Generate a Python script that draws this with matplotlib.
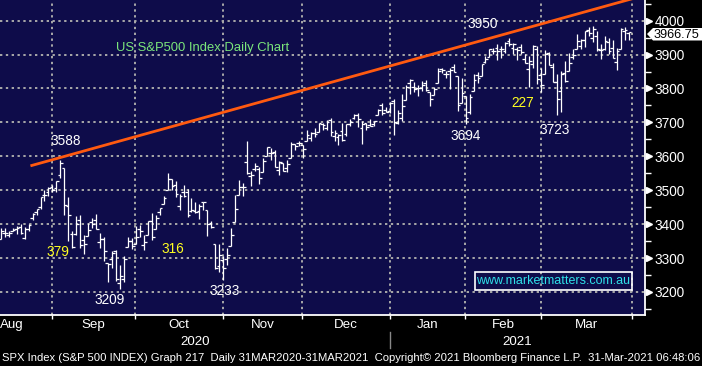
import numpy as np
import pandas as pd
import matplotlib
matplotlib.use('Agg')
import matplotlib.pyplot as plt
from matplotlib import transforms
from matplotlib.patches import Polygon, Rectangle

# SPX daily bars, 12 Aug 2020 - 30 Mar 2021 (one row per month)
opens = [
    3355.5, 3373.0, 3368.7, 3380.9, 3387.0, 3392.5, 3360.5, 3386.0, 3418.1, 3436.0, 3450.0, 3485.1, 3494.7, 3509.7,
    3507.4, 3543.8, 3564.7, 3453.6, 3371.9, 3369.8, 3412.6, 3352.7, 3363.6, 3407.7, 3411.2, 3346.9, 3357.4, 3285.6, 3295.8, 3320.1, 3226.1, 3236.7, 3333.9, 3350.9, 3341.2,
    3385.9, 3338.9, 3367.3, 3408.7, 3384.6, 3434.3, 3459.7, 3500.0, 3534.0, 3515.5, 3453.7, 3493.5, 3493.7, 3439.4, 3439.9, 3438.5, 3464.9, 3441.4, 3403.2, 3342.5, 3277.2, 3293.6,
    3296.2, 3336.3, 3406.5, 3485.7, 3508.3, 3583.0, 3543.3, 3563.2, 3562.7, 3552.6, 3600.2, 3610.3, 3612.1, 3559.4, 3579.3, 3566.8, 3594.5, 3635.5, 3638.6, 3634.2,
    3645.9, 3653.8, 3668.3, 3670.9, 3694.7, 3683.1, 3706.0, 3659.1, 3656.1, 3675.3, 3666.4, 3696.3, 3713.7, 3722.4, 3684.3, 3698.1, 3693.4, 3694.0, 3723.0, 3750.0, 3736.2, 3733.3,
    3764.6, 3698.0, 3712.2, 3764.7, 3815.1, 3803.1, 3801.6, 3802.2, 3815.0, 3788.7, 3781.9, 3816.2, 3857.5, 3844.2, 3851.7, 3863.0, 3836.8, 3755.8, 3778.1,
    3731.2, 3791.8, 3840.3, 3836.7, 3878.3, 3892.6, 3910.5, 3920.8, 3916.4, 3911.7, 3939.6, 3918.5, 3915.9, 3921.2, 3885.6, 3857.1, 3873.7, 3915.8, 3839.7,
    3842.5, 3903.6, 3864.0, 3818.5, 3793.6, 3844.4, 3851.9, 3892.0, 3915.5, 3924.5, 3943.0, 3973.6, 3949.6, 3953.5, 3913.1, 3916.5, 3937.6, 3919.9, 3879.3, 3917.1, 3969.3, 3963.3,
]
highs = [
    3387.9, 3387.2, 3378.5, 3387.6, 3395.1, 3399.5, 3390.8, 3400.0, 3432.1, 3444.2, 3481.1, 3501.4, 3509.2, 3514.8,
    3528.0, 3588.1, 3564.9, 3479.2, 3380.0, 3424.8, 3425.6, 3369.0, 3402.9, 3419.5, 3428.9, 3375.2, 3362.3, 3285.6, 3320.3, 3323.4, 3278.7, 3306.9, 3360.7, 3357.9, 3393.6,
    3397.2, 3369.1, 3409.6, 3431.6, 3426.3, 3447.3, 3482.3, 3549.9, 3534.0, 3527.9, 3489.1, 3515.8, 3502.4, 3476.9, 3464.9, 3460.5, 3466.5, 3441.4, 3409.5, 3342.5, 3341.1, 3304.9,
    3330.1, 3389.5, 3486.3, 3529.1, 3521.6, 3646.0, 3557.2, 3581.2, 3569.0, 3593.7, 3628.5, 3623.1, 3619.1, 3585.2, 3581.2, 3589.8, 3642.3, 3635.5, 3644.3, 3634.2,
    3678.5, 3671.0, 3682.7, 3699.2, 3697.4, 3708.5, 3712.4, 3678.5, 3665.9, 3697.6, 3695.3, 3711.3, 3725.1, 3726.7, 3702.9, 3698.3, 3711.2, 3703.8, 3740.5, 3756.1, 3744.6, 3760.2,
    3770.0, 3737.8, 3783.0, 3811.6, 3826.7, 3817.9, 3810.8, 3821.0, 3823.6, 3788.7, 3804.5, 3859.8, 3861.5, 3852.3, 3859.2, 3870.9, 3836.8, 3830.5, 3778.1,
    3784.3, 3843.1, 3847.5, 3872.4, 3894.6, 3915.8, 3918.4, 3931.5, 3926.0, 3937.2, 3950.4, 3933.6, 3922.0, 3930.4, 3902.9, 3896.0, 3928.7, 3925.0, 3861.1,
    3914.5, 3906.4, 3874.5, 3843.7, 3851.7, 3881.1, 3903.8, 3917.4, 3960.3, 3945.0, 3970.1, 3981.0, 3983.9, 3969.6, 3930.1, 3955.3, 3949.1, 3942.1, 3919.5, 3978.2, 3981.8, 3968.0,
]
lows = [
    3355.5, 3363.4, 3361.6, 3379.2, 3370.2, 3369.7, 3354.7, 3379.3, 3413.1, 3425.8, 3444.2, 3468.4, 3484.3, 3493.3,
    3494.6, 3535.2, 3427.4, 3349.6, 3329.3, 3366.8, 3329.3, 3310.5, 3363.6, 3389.3, 3384.5, 3328.8, 3292.4, 3229.1, 3271.0, 3232.6, 3209.5, 3228.4, 3332.9, 3327.5, 3340.5,
    3361.4, 3323.7, 3367.3, 3354.5, 3384.6, 3428.2, 3458.1, 3499.6, 3500.9, 3480.6, 3440.9, 3480.5, 3419.9, 3435.7, 3433.1, 3415.3, 3440.5, 3364.9, 3388.7, 3268.9, 3259.8, 3233.9,
    3279.7, 3336.3, 3405.2, 3485.7, 3484.3, 3547.5, 3511.9, 3557.0, 3518.6, 3552.6, 3600.2, 3588.7, 3567.3, 3543.8, 3556.9, 3552.8, 3594.5, 3617.8, 3629.3, 3594.4,
    3645.9, 3644.8, 3657.2, 3670.9, 3678.9, 3678.8, 3660.5, 3645.2, 3633.4, 3645.8, 3659.6, 3688.6, 3710.9, 3685.8, 3636.5, 3676.2, 3689.3, 3689.3, 3723.0, 3723.3, 3730.2, 3726.9,
    3662.7, 3695.1, 3705.3, 3764.7, 3783.6, 3789.0, 3776.5, 3791.5, 3792.9, 3749.6, 3780.4, 3816.2, 3845.1, 3830.4, 3797.2, 3847.8, 3732.5, 3755.8, 3694.1,
    3725.6, 3791.8, 3816.7, 3836.7, 3874.9, 3892.6, 3902.6, 3884.9, 3890.4, 3905.8, 3923.9, 3900.4, 3885.0, 3903.1, 3874.7, 3805.6, 3859.6, 3814.0, 3789.5,
    3842.5, 3868.6, 3818.9, 3723.3, 3730.2, 3819.3, 3851.9, 3885.7, 3915.5, 3915.2, 3923.5, 3953.4, 3935.7, 3910.9, 3886.8, 3914.2, 3901.6, 3889.1, 3853.5, 3917.1, 3943.3, 3944.4,
]
closes = [
    3380.4, 3373.4, 3372.9, 3382.0, 3389.8, 3374.9, 3385.5, 3397.2, 3431.3, 3443.6, 3478.7, 3484.6, 3508.0, 3500.3,
    3526.7, 3580.8, 3455.1, 3427.0, 3331.8, 3399.0, 3339.2, 3341.0, 3383.5, 3401.2, 3385.5, 3357.0, 3319.5, 3281.1, 3315.6, 3236.9, 3246.6, 3298.5, 3351.6, 3335.5, 3363.0,
    3380.8, 3348.4, 3408.6, 3361.0, 3419.4, 3446.8, 3477.1, 3534.2, 3511.9, 3488.7, 3483.3, 3483.8, 3426.9, 3443.1, 3435.6, 3453.5, 3465.4, 3401.0, 3390.7, 3271.0, 3310.1, 3270.0,
    3310.2, 3369.2, 3443.4, 3510.5, 3509.4, 3550.5, 3545.5, 3572.7, 3537.0, 3585.2, 3626.9, 3609.5, 3567.8, 3581.9, 3557.5, 3577.6, 3635.4, 3629.7, 3638.4, 3621.6,
    3662.5, 3669.0, 3666.7, 3699.1, 3692.0, 3702.3, 3672.8, 3668.1, 3663.5, 3647.5, 3694.6, 3701.2, 3722.5, 3709.4, 3694.9, 3687.3, 3690.0, 3703.1, 3735.4, 3727.0, 3732.0, 3756.1,
    3700.7, 3726.9, 3748.1, 3803.8, 3824.7, 3799.6, 3801.2, 3809.8, 3795.5, 3768.3, 3798.9, 3851.9, 3853.1, 3841.5, 3855.4, 3849.6, 3750.8, 3787.4, 3714.2,
    3773.9, 3826.3, 3830.2, 3871.7, 3886.8, 3915.6, 3911.2, 3909.9, 3916.4, 3934.8, 3932.6, 3931.3, 3914.0, 3906.7, 3876.5, 3881.4, 3925.4, 3829.3, 3811.2,
    3901.8, 3870.3, 3819.7, 3768.5, 3841.9, 3821.4, 3875.4, 3898.8, 3939.3, 3943.3, 3968.9, 3962.7, 3974.1, 3915.5, 3913.1, 3940.6, 3910.5, 3889.1, 3909.5, 3974.5, 3971.1, 3966.8,
]
last_price = 3966.75

# trading calendar (NYSE holidays in range)
holidays = ['2020-09-07', '2020-11-26', '2020-12-25', '2021-01-01', '2021-01-18', '2021-02-15']
cal = pd.bdate_range('2020-08-12', '2021-04-01')
cal = cal[~cal.isin(pd.to_datetime(holidays))]

# resistance line drawn on the chart
trend_x = [7.8, 163]
trend_y = [3573, 4078]

# labels written on the chart
peak_labels = ['3588', '3209', '3233', '3694', '3950', '3723']
range_labels = ['379', '316', '227']
yticks = list(range(3200, 4001, 100))
month_names = ['Aug', 'Sep', 'Oct', 'Nov', 'Dec', 'Jan', 'Feb', 'Mar']

FONT = ['Liberation Sans', 'DejaVu Sans']
NAVY = '#0e0c4a'
GRID = '#a9a9a9'

fig = plt.figure(figsize=(7.02, 3.66), dpi=100, facecolor='black')
ax = fig.add_axes([0, 51 / 366, 645 / 702, 315 / 366], facecolor=NAVY)

x = np.arange(len(closes))
month_start = [i for i in range(1, len(cal)) if cal[i].month != cal[i - 1].month]
grid_x = [i - 1.1 for i in month_start]

# grid
dots = (0, (1.2, 1.8))
for g in grid_x:
    ax.axvline(g, color=GRID, lw=1.4, ls=dots, zorder=1)
for yv in yticks:
    ax.axhline(yv, color=GRID, lw=1.4, ls=dots, zorder=1)

# OHLC bars
ax.vlines(x, lows, highs, color='white', lw=0.9, zorder=3)
ax.hlines(opens, x - 0.7, x, color='white', lw=0.9, zorder=3)
ax.hlines(closes, x, x + 0.7, color='white', lw=0.9, zorder=3)

ax.plot(trend_x, trend_y, color='#ff5a10', lw=2.0, zorder=4)

ax.set_xlim(-0.2, 162.15)
ax.set_ylim(3132, 4061)

for s in ['left', 'top']:
    ax.spines[s].set_visible(False)
for s in ['right', 'bottom']:
    ax.spines[s].set_color('white')
    ax.spines[s].set_linewidth(1.3)

ax.yaxis.tick_right()
ax.set_yticks(yticks)
ax.set_yticks([v + 50 for v in range(3100, 4001, 100)], minor=True)
ax.tick_params(axis='y', which='major', length=0, pad=7, labelcolor='white', labelsize=9.8)
ax.tick_params(axis='y', which='minor', length=4, width=1, color='white', direction='out')
for lab in ax.get_yticklabels():
    lab.set_family(FONT)
ax.set_xticks(grid_x)
ax.set_xticklabels([])
ax.tick_params(axis='x', length=3, width=1, color='white', direction='out')

# triangular major tick marks on the price axis
yaxis_tr = transforms.blended_transform_factory(ax.transAxes, ax.transData)
ax.plot(np.full(len(yticks), 1.006), yticks, ls='none', marker='>', ms=5,
        color='white', transform=yaxis_tr, clip_on=False, zorder=5)

# last price tag
to_fig = lambda px, py: (px / 702, 1 - py / 366)
tag = Polygon([to_fig(647, 34), to_fig(653, 28), to_fig(702, 28),
               to_fig(702, 40.5), to_fig(653, 40.5)], closed=True,
              transform=fig.transFigure, fc='white', ec='none')
fig.patches.append(tag)
fig.text(*to_fig(654, 34.5), f'{last_price:.2f}', color='black', ha='left', va='center',
         fontsize=9.2, family=FONT)

# chart title
ax.text(29.0, 3919, 'US S&P500 Index Daily Chart', color='#7be67b', fontsize=9.4,
        family=FONT, ha='left', va='center', zorder=6)

# peak / trough values
peak_pos = [(16.4, 3645), (27.5, 3176), (56.4, 3203), (117.1, 3660), (121.4, 3990), (139.5, 3677)]
for t, (px, py) in zip(peak_labels, peak_pos):
    ax.text(px, py, t, color='white', fontsize=9.8, family=FONT, ha='center', va='center', zorder=6)
range_pos = [(14.4, 3317), (43.3, 3326), (131.4, 3757)]
for t, (px, py) in zip(range_labels, range_pos):
    ax.text(px, py, t, color='#ffff20', fontsize=9.8, family=FONT, ha='center', va='center', zorder=6)

# watermark box
ax.add_patch(Rectangle((474.5 / 645, 1 - 290 / 315), 157 / 645, 18 / 315, transform=ax.transAxes,
                       fc='none', ec='white', lw=1.2, zorder=6))
ax.text(553 / 645, 1 - 281 / 315, 'www.marketmatters.com.au', transform=ax.transAxes,
        color='#2fe0e8', fontsize=9, family=FONT, ha='center', va='center', zorder=7)

# month and year labels under the axis
xaxis_tr = transforms.blended_transform_factory(ax.transData, ax.transAxes)
xmin, xmax = ax.get_xlim()
ax.text(xmin, -0.032, month_names[0], transform=xaxis_tr, color='white', fontsize=9.6,
        family=FONT, ha='left', va='center')
for k, name in enumerate(month_names[1:]):
    mid = (grid_x[k] + grid_x[k + 1]) / 2
    ax.text(mid, -0.032, name, transform=xaxis_tr, color='white', fontsize=9.6,
            family=FONT, ha='center', va='center')
jan_line = grid_x[4]
ax.text((xmin + jan_line) / 2, -0.086, '2020', transform=xaxis_tr, color='white', fontsize=9.6,
        family=FONT, ha='center', va='center')
ax.text((jan_line + xmax) / 2, -0.086, '2021', transform=xaxis_tr, color='white', fontsize=9.6,
        family=FONT, ha='center', va='center')
ax.plot([jan_line, jan_line], [-0.054, -0.105], color='#888888', lw=1, transform=xaxis_tr, clip_on=False)

fig.text(2 / 702, 1 - 358 / 366,
         'SPX Index (S&P 500 INDEX) Graph 217  Daily 31MAR2020-31MAR2021  '
         'Copyright\u00a9 2021 Bloomberg Finance L.P.  31-Mar-2021 06:48:06',
         color='white', fontsize=8.15, family=FONT, ha='left', va='center')

fig.savefig('out.png', dpi=100, facecolor='black')
